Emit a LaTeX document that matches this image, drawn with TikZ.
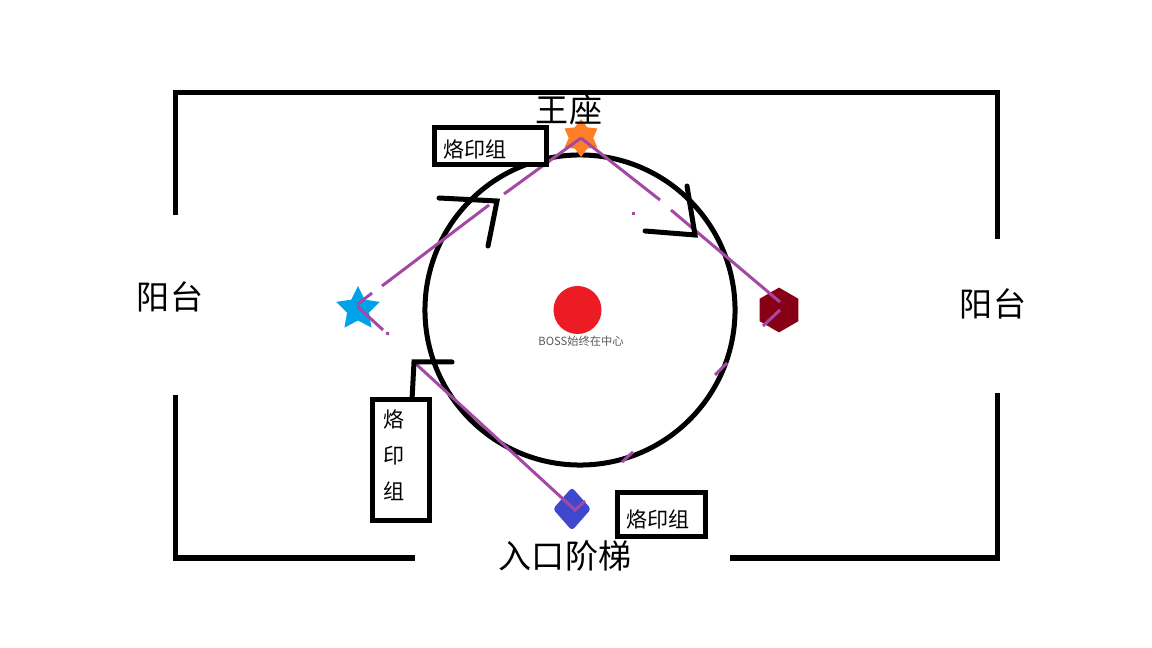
\documentclass[tikz,border=0pt]{standalone}
\usepackage{fontspec}
\usepackage{xcolor}
\setmainfont{Noto Sans CJK SC}
\usetikzlibrary{shapes.geometric}
\definecolor{routepurple}{HTML}{A349A4}
\definecolor{throneorange}{HTML}{FF7F27}
\definecolor{starblue}{HTML}{00A2E8}
\definecolor{hexred}{HTML}{880015}
\definecolor{gemblue}{HTML}{3F48CC}
\definecolor{bossred}{HTML}{ED1C24}
\tikzset{
  wall/.style={line width=0.125cm, line cap=butt, line join=miter},
  turn/.style={line width=0.125cm, line cap=round, line join=miter},
  route/.style={line width=0.075cm, routepurple},
  stampbox/.style={draw, line width=0.125cm, fill=white, anchor=north west, outer sep=0pt, inner xsep=0.22cm, inner ysep=0pt, font=\fontsize{15}{18}\selectfont, align=left},
  place/.style={inner sep=0pt, font=\fontsize{23.5}{28}\selectfont},
  marker/.style={inner sep=0pt, outer sep=0pt, draw=none}
}
\begin{document}
\begin{tikzpicture}[x=0.025cm, y=-0.025cm]
  \useasboundingbox (0,0) rectangle (1152,648);
  % Outer walls
  \draw[wall] (175,215) -- (175,93) -- (997,93) -- (997,239);
  \draw[wall] (175,395) -- (175,558) -- (415,558);
  \draw[wall] (730,558) -- (997,558) -- (997,393);
  % Ring and boss
  \node[draw, circle, line width=0.125cm, minimum size=7.75cm, inner sep=0pt] (ring) at (580,310) {};
  \node[marker, circle, fill=bossred, minimum size=1.2cm] (boss) at (577.5,310) {};
  \node[inner sep=0pt, text=black!65, font=\fontsize{8}{10}\selectfont] (bosstext) at (581,341) {BOSS始终在中心};
  % Markers
  \node[marker, star, star points=6, star point ratio=1.55, fill=throneorange, minimum size=0.95cm] (throne) at (581,138) {};
  \node[marker, star, star points=5, star point ratio=2.0, fill=starblue, minimum size=1.15cm] (bluestar) at (358,309) {};
  \node[marker, regular polygon, regular polygon sides=6, shape border rotate=30, fill=hexred, minimum size=1.12cm] (hexagon) at (779,310) {};
  \node[marker, diamond, fill=gemblue, rounded corners=0.08cm, minimum width=0.95cm, minimum height=1.08cm] (gem) at (572,509) {};
  % Gaps in the purple route
  \coordinate (gapa) at (504,194);
  \coordinate (gapb) at (489,205);
  \coordinate (gapc) at (382,286);
  \coordinate (gapd) at (372,293);
  \coordinate (gape) at (383,330);
  \coordinate (gapf) at (416,364);
  \coordinate (gapg) at (660,200);
  \coordinate (gaph) at (671,210);
  \coordinate (gapi) at (763,326);
  \coordinate (gemend) at (585,501);
  \coordinate (bluein) at (358,304);
  \coordinate (blueout) at (357,306);
  \coordinate (hexin) at (780,302);
  \coordinate (hexout) at (780,310);
  \coordinate (gemin) at (575,510);
  \coordinate (tracea) at (727,363);
  \coordinate (traceb) at (715,375);
  \coordinate (tracec) at (633,452);
  \coordinate (traced) at (622,462);
  \coordinate (dota) at (632,214);
  \coordinate (dotb) at (635,214);
  \coordinate (dotc) at (386,333);
  \coordinate (dotd) at (389,334);
  % Purple route
  \draw[route] (throne.center) -- (gapa);
  \draw[route] (gapb) -- (gapc);
  \draw[route] (gapd) -- (bluein);
  \draw[route] (blueout) -- (gape);
  \draw[route] (gapf) -- (gemin) -- (gemend);
  \draw[route] (throne.center) -- (gapg);
  \draw[route] (gaph) -- (hexin);
  \draw[route] (hexout) -- (gapi);
  \draw[route] (tracea) -- (traceb);
  \draw[route] (tracec) -- (traced);
  \draw[route] (dota) -- (dotb);
  \draw[route] (dotc) -- (dotd);
  % Turn marks
  \coordinate (turna) at (439,198);
  \coordinate (turnb) at (497,201);
  \coordinate (turnc) at (488,246);
  \coordinate (turnd) at (645,231);
  \coordinate (turne) at (695,235);
  \coordinate (turnf) at (687,186);
  \coordinate (turng) at (452,362);
  \coordinate (turnh) at (414,362);
  \coordinate (turni) at (412,400);
  \draw[turn] (turna) -- (turnb) -- (turnc);
  \draw[turn] (turnd) -- (turne) -- (turnf);
  \draw[turn] (turng) -- (turnh) -- (turni);
  % Group boxes
  \node[stampbox, text width=2.36cm, minimum height=0.925cm] (stampa) at (434.5,127.5) {\rule{0pt}{18pt}烙印组};
  \node[stampbox, inner xsep=0.28cm, text width=0.865cm, minimum height=3.025cm] (stampb) at (372.5,399.5) {烙\\[7.5pt]印\\[7.5pt]组\rule[-8pt]{0pt}{8pt}};
  \node[stampbox, text width=1.76cm, minimum height=1.1cm] (stampc) at (617.5,492.5) {\rule{0pt}{19.5pt}烙印组};
  % Places
  \node[place] (seat) at (569,110) {王座};
  \node[place] (balconyl) at (170,297) {阳台};
  \node[place] (balconyr) at (993,304) {阳台};
  \node[place] (stairs) at (565,556) {入口阶梯};
\end{tikzpicture}
\end{document}
